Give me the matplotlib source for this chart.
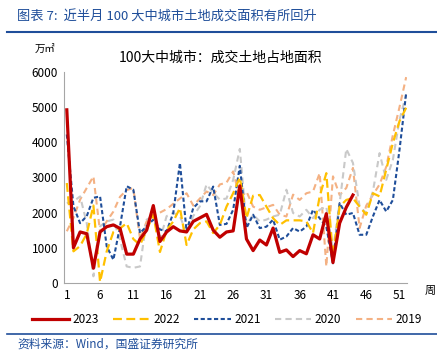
import numpy as np
import matplotlib
matplotlib.use("Agg")
import matplotlib.pyplot as plt
from matplotlib.lines import Line2D

plt.rcParams['font.family'] = ['Noto Sans CJK SC', 'DejaVu Sans']

# ---- donnees (万㎡, par semaine) ----
y2023 = [4920, 1000, 1450, 1400, 420, 1450, 1600, 1650, 1550, 820,
         820, 1250, 1500, 2200, 1180, 1450, 1600, 1480, 1450, 1750,
         1850, 1950, 1500, 1300, 1450, 1480, 2760, 1250, 920, 1220,
         1080, 1560, 870, 940, 750, 920, 830, 1370, 1250, 1970,
         580, 1700, 2150, 2500]
y2022 = [2840, 900, 1050, 1400, 2200, 30, 900, 1450, 1550, 1700,
         1250, 1080, 1500, 1950, 880, 1500, 1750, 2130, 1080, 1520,
         1700, 1750, 1420, 1650, 2170, 2550, 3000, 1840, 2480, 2500,
         2170, 1840, 1650, 1780, 1780, 1780, 1750, 1420, 2460, 3120,
         750, 2170, 2360, 2410, 2170, 1940, 2550, 2460, 3220, 3980,
         4600, 4980]
y2021 = [4220, 2180, 1700, 1900, 2420, 2460, 1040, 660, 1610, 2750,
         2650, 1420, 1610, 1800, 1520, 1470, 1990, 3410, 1470, 2130,
         2320, 2320, 2740, 1650, 1680, 2080, 3330, 1560, 1940, 1560,
         1600, 1800, 1230, 1320, 1560, 1460, 1600, 2080, 1840, 1600,
         560, 2270, 1940, 1990, 1370, 1370, 1890, 2360, 2030, 2360,
         3790, 5400]
y2020 = [2270, 2320, 2460, 1700, 190, 1610, 1750, 1800, 1230, 470,
         430, 470, 1800, 1900, 1230, 1900, 1990, 1900, 1420, 1900,
         2180, 2800, 2560, 2370, 2400, 2930, 3810, 1650, 1940, 1750,
         1800, 1890, 1940, 2650, 1990, 1890, 2080, 1840, 2080, 2170,
         940, 2270, 3810, 3410, 2170, 1990, 2600, 3690, 2930, 3500,
         4640, 5360]
y2019 = [1470, 1850, 2370, 2700, 3030, 1450, 1750, 2030, 2450, 2640,
         2700, 1250, 1750, 1900, 2000, 2100, 2250, 2400, 2550, 2200,
         2400, 2600, 2500, 2800, 2850, 3170, 2400, 2600, 2170, 2080,
         2150, 2220, 1940, 1890, 2510, 2360, 2550, 2600, 3120, 470,
         3030, 2500, 2700, 3270, 1560, 2200, 2500, 2800, 3300, 4200,
         5000, 5850]

xticks = [1, 6, 11, 16, 21, 26, 31, 36, 41, 46, 51]
yticks = [0, 1000, 2000, 3000, 4000, 5000, 6000]

fig = plt.figure(figsize=(4.37, 3.54), dpi=100)
ax = fig.add_axes([0.146, 0.2006, 0.785, 0.5965])

BLEU = '#1F4E9A'

# ordre de trace : 2023 au dessus
series = [
    ('2019', y2019, '#F4B183', 1.5, (0, (3, 2))),
    ('2020', y2020, '#C9C9C9', 1.5, (0, (3, 2))),
    ('2021', y2021, '#1F4E9A', 1.5, (0, (2, 1.2))),
    ('2022', y2022, '#FFC000', 1.6, (0, (4, 2))),
    ('2023', y2023, '#C00000', 2.3, '-'),
]
handles = {}
for nom, vals, c, lw, ls in series:
    sem = np.arange(1, len(vals) + 1)
    ln, = ax.plot(sem, vals, color=c, lw=lw, linestyle=ls, label=nom)
    handles[nom] = ln

ax.set_xlim(0.55, 52.1)
ax.set_ylim(0, 6000)
ax.set_xticks(xticks)
ax.set_yticks(yticks)
ax.tick_params(length=0, labelsize=8.5, pad=4)
for s in ['top', 'right']:
    ax.spines[s].set_visible(False)
for s in ['left', 'bottom']:
    ax.spines[s].set_color('#A6A6A6')
    ax.spines[s].set_linewidth(0.8)

# titre, unite, "周"
fig.text(0.505, 0.838, '100大中城市：成交土地占地面积', ha='center', va='center', fontsize=10)
fig.text(0.104, 0.862, '万㎡', ha='center', va='center', fontsize=7.5)
fig.text(0.985, 0.179, '周', ha='center', va='center', fontsize=8)

# legende
ordre = ['2023', '2022', '2021', '2020', '2019']
fig.legend([handles[k] for k in ordre], ordre, loc='center', bbox_to_anchor=(0.52, 0.097),
           ncol=5, frameon=False, fontsize=8.5, handlelength=3.1, handletextpad=0.3,
           columnspacing=1.2)

# entete et source
fig.text(0.04, 0.952, '图表 7:  近半月 100 大中城市土地成交面积有所回升', ha='left', va='center',
         fontsize=9.5, color=BLEU, style='italic')
fig.add_artist(Line2D([0.016, 1.0], [0.91, 0.91], color=BLEU, lw=1.5))
fig.add_artist(Line2D([0.016, 1.0], [0.057, 0.057], color=BLEU, lw=1.2))
fig.text(0.04, 0.027, '资料来源：Wind，国盛证券研究所', ha='left', va='center',
         fontsize=8.5, color=BLEU, style='italic')

fig.savefig('out.png', dpi=100)
